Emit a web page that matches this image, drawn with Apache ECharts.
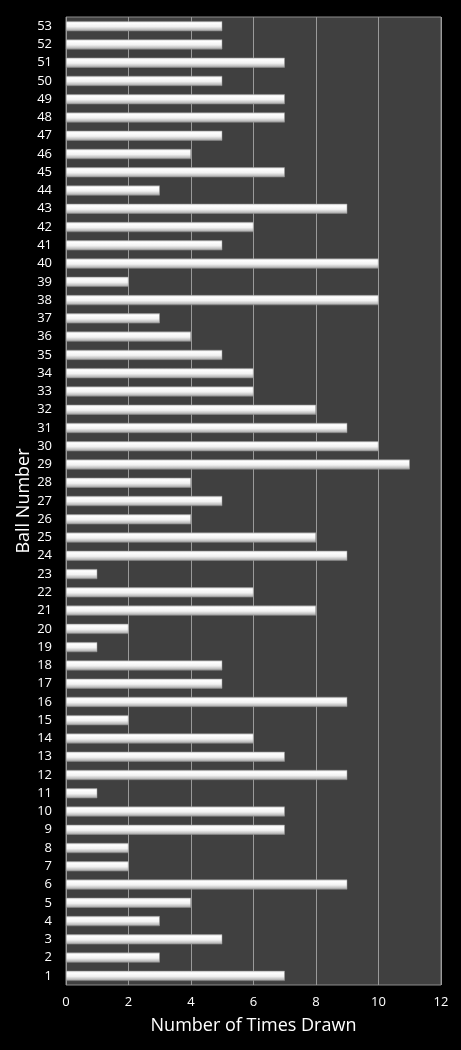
<!DOCTYPE html>
<html>
<head>
<meta charset="UTF-8">
<title>Ball Number</title>
<script src="https://cdn.jsdelivr.net/npm/echarts@6/dist/echarts.min.js"></script>
<style>
  html, body { margin: 0; padding: 0; background: #000; }
  #main { width: 461px; height: 1050px; }
</style>
</head>
<body>
<div id="main"></div>
<script type="text/javascript">
// ball numbers 1..53 (bottom to top)
var balls = [];
for (var i = 1; i <= 53; i++) balls.push(String(i));

// number of times drawn, for ball 1..53
var timesDrawn = [
  7, 3, 5, 3, 4, 9, 2, 2, 7, 7,
  1, 9, 7, 6, 2, 9, 5, 5, 1, 2,
  8, 6, 1, 9, 8, 4, 5, 4, 11, 10,
  9, 8, 6, 6, 5, 4, 3, 10, 2, 10,
  5, 6, 9, 3, 7, 4, 5, 7, 7, 5,
  7, 5, 5
];

var xTicks = [0, 2, 4, 6, 8, 10, 12];

var myChart = echarts.init(document.getElementById('main'));

var option = {
  backgroundColor: '#000',
  animation: false,
  textStyle: { fontFamily: 'Open Sans' },
  grid: {
    left: 66, right: 20, top: 17, bottom: 65,
    outerBoundsMode: 'none',
    show: true,
    backgroundColor: '#404040',
    borderColor: '#8c8c8c',
    borderWidth: 1
  },
  xAxis: {
    type: 'value',
    min: xTicks[0],
    max: xTicks[xTicks.length - 1],
    interval: 2,
    name: 'Number of Times Drawn',
    nameLocation: 'middle',
    nameGap: 32,
    nameMoveOverlap: false,
    nameTextStyle: { color: '#fff', fontSize: 18 },
    axisLine: { show: false },
    axisTick: { show: false },
    axisLabel: { color: '#fff', fontSize: 13, margin: 11 },
    splitLine: { show: true, lineStyle: { color: '#9a9a9a', width: 1 } }
  },
  yAxis: {
    type: 'category',
    data: balls,
    name: 'Ball Number',
    nameLocation: 'middle',
    nameGap: 33,
    nameMoveOverlap: false,
    nameRotate: 90,
    nameTextStyle: { color: '#fff', fontSize: 18 },
    axisLine: { show: false },
    axisTick: { show: false },
    axisLabel: { color: '#fff', fontSize: 13, margin: 14, interval: 0 },
    splitLine: { show: false }
  },
  series: [
    {
      type: 'bar',
      data: timesDrawn,
      barWidth: 10,
      itemStyle: {
        color: new echarts.graphic.LinearGradient(0, 0, 0, 1, [
          { offset: 0, color: '#d8d8d8' },
          { offset: 0.2, color: '#ffffff' },
          { offset: 0.55, color: '#f2f2f2' },
          { offset: 0.85, color: '#bdbdbd' },
          { offset: 1, color: '#8a8a8a' }
        ]),
        borderColor: '#9a9a9a',
        borderWidth: 0.5
      }
    }
  ]
};

myChart.setOption(option);
</script>
</body>
</html>
